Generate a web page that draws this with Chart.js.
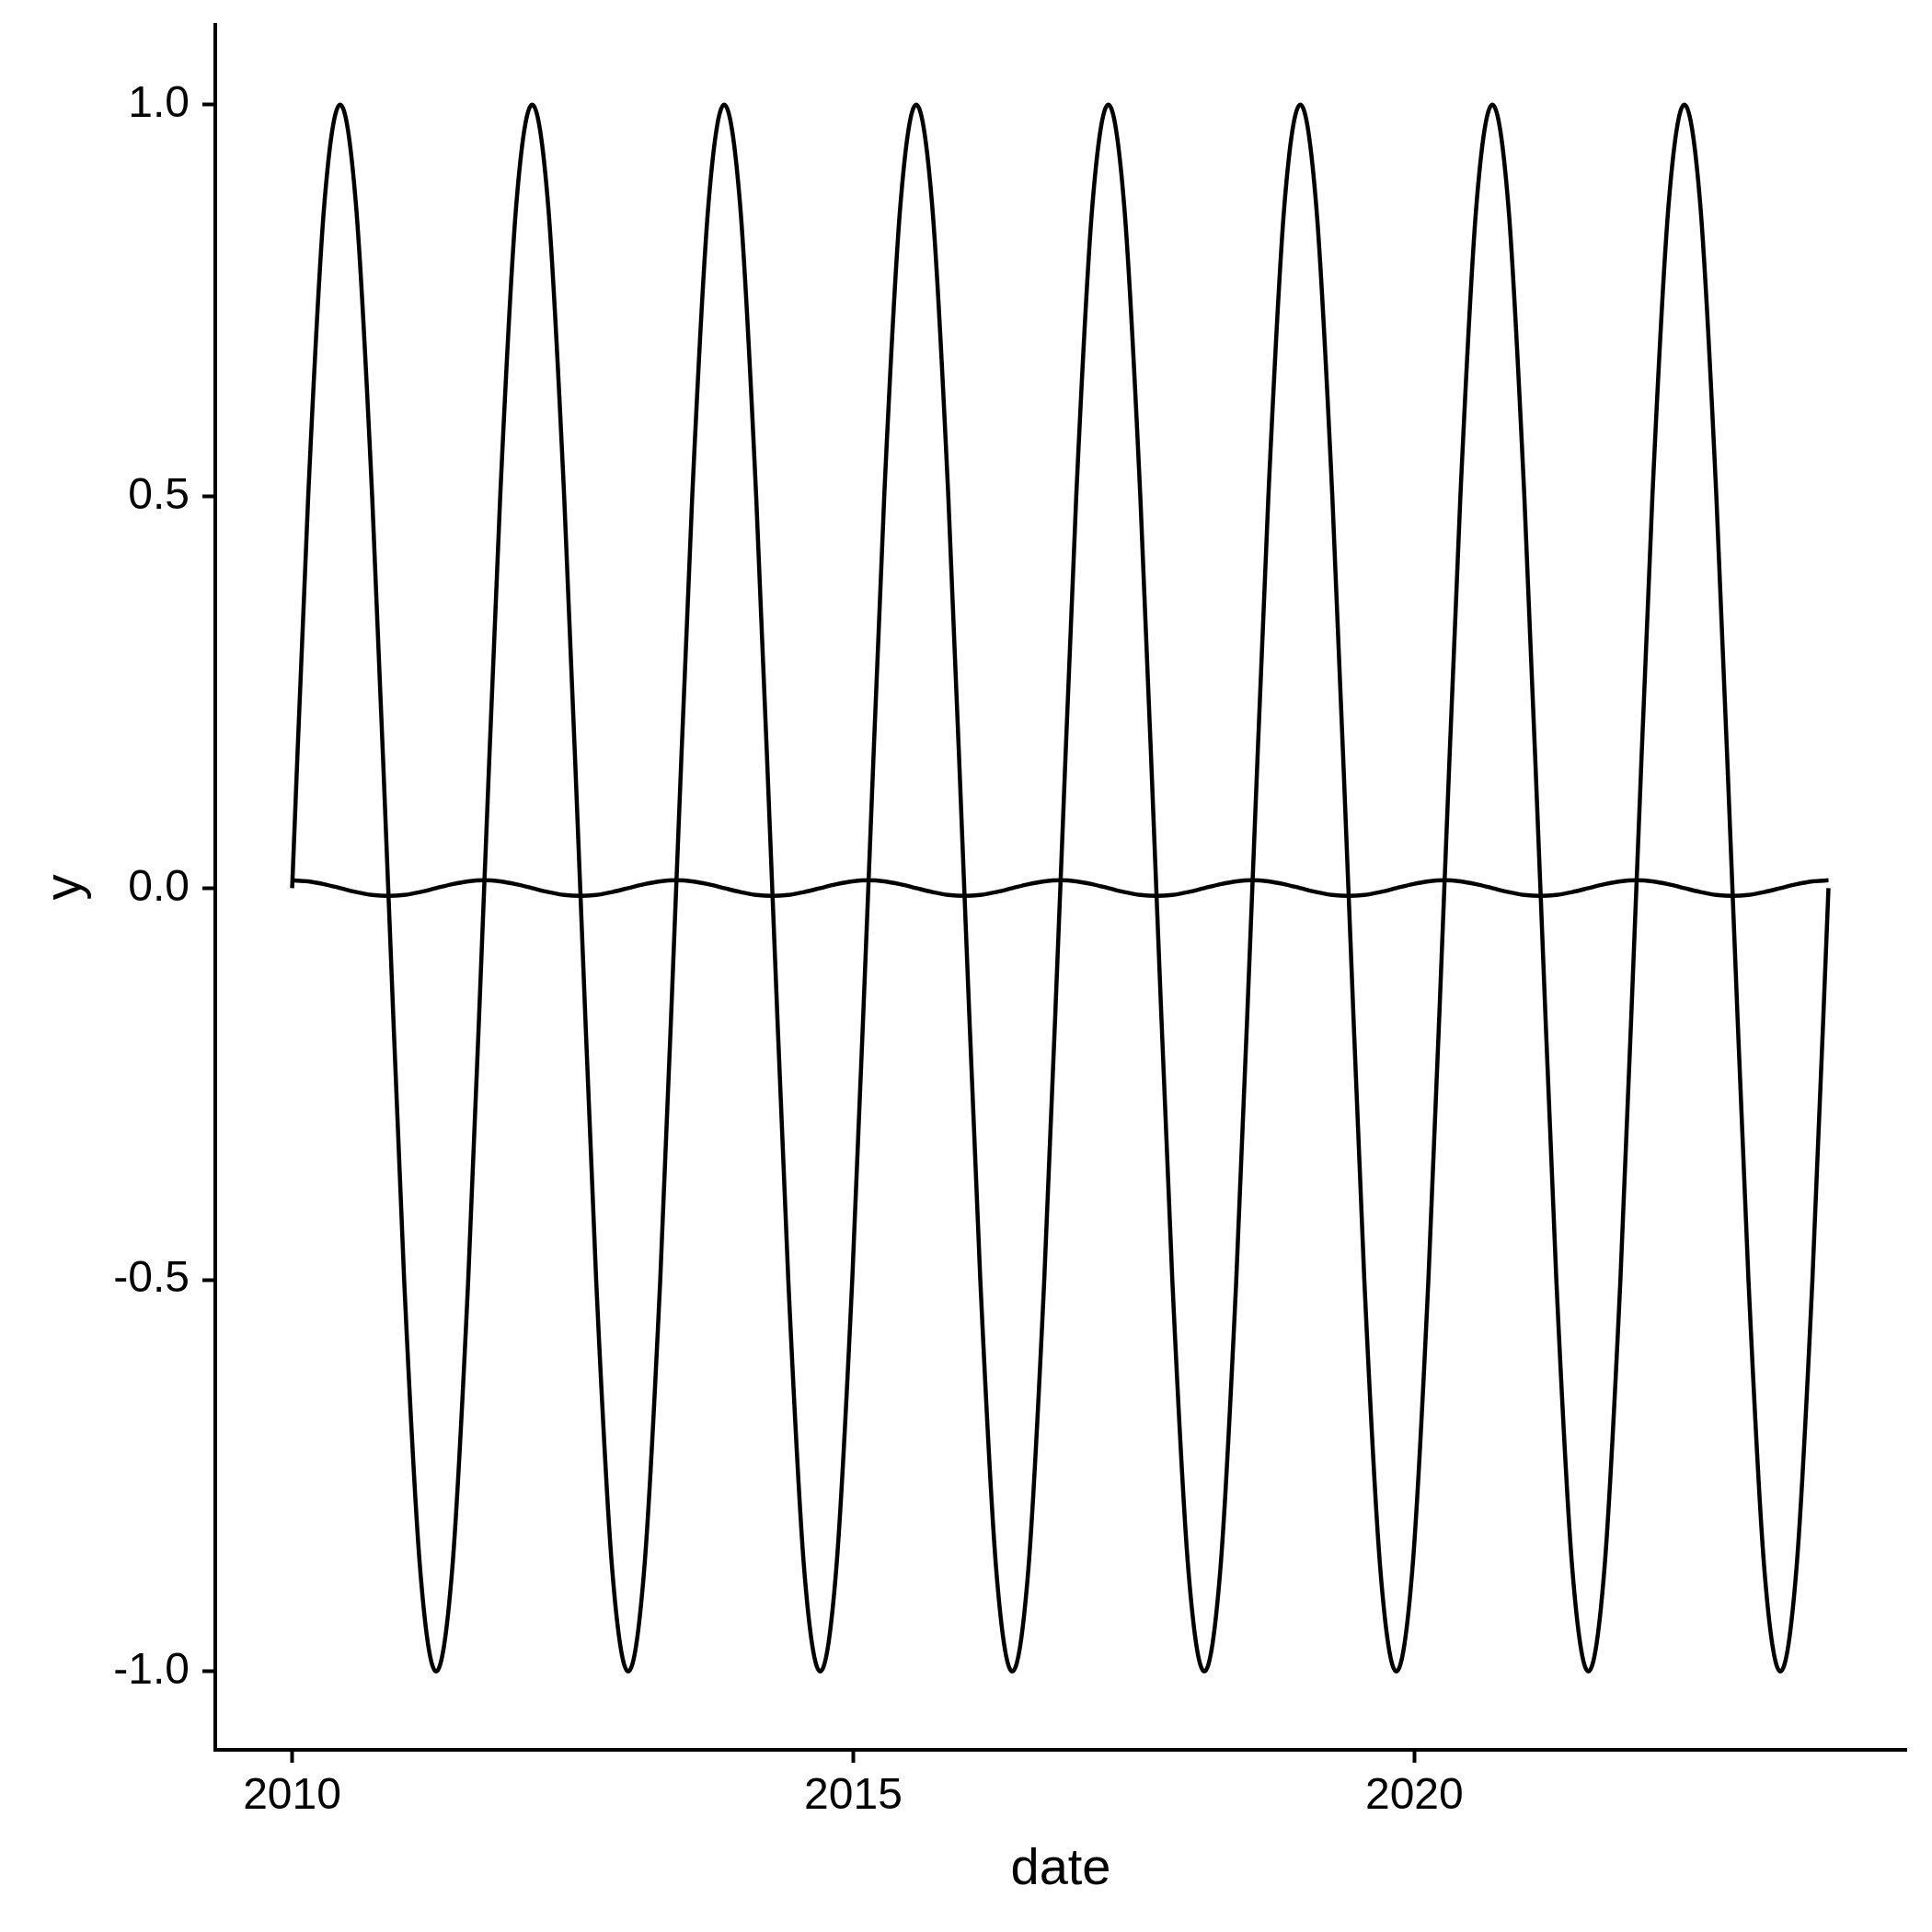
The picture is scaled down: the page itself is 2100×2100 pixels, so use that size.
<!DOCTYPE html>
<html>
<head>
<meta charset="utf-8">
<script src="https://cdn.jsdelivr.net/npm/chart.js@4/dist/chart.umd.min.js"></script>
<style>
  html, body { margin: 0; padding: 0; background: #fff; }
  #wrap { width: 2100px; height: 2100px; }
</style>
</head>
<body>
<div id="wrap"><canvas id="sineChart" width="2100" height="2100"></canvas></div>
<script>
// dates as decimal years (one sample every ~52 days)
const dates = [
  2010.000, 2010.143, 2010.285, 2010.428, 2010.570, 2010.713, 2010.856, 2010.998,
  2011.141, 2011.283, 2011.426, 2011.569, 2011.711, 2011.854, 2011.996, 2012.139,
  2012.282, 2012.424, 2012.567, 2012.709, 2012.852, 2012.995, 2013.137, 2013.280,
  2013.422, 2013.565, 2013.708, 2013.850, 2013.993, 2014.135, 2014.278, 2014.421,
  2014.563, 2014.706, 2014.848, 2014.991, 2015.134, 2015.276, 2015.419, 2015.561,
  2015.704, 2015.847, 2015.989, 2016.132, 2016.274, 2016.417, 2016.560, 2016.702,
  2016.845, 2016.987, 2017.130, 2017.273, 2017.415, 2017.558, 2017.700, 2017.843,
  2017.986, 2018.128, 2018.271, 2018.413, 2018.556, 2018.699, 2018.841, 2018.984,
  2019.126, 2019.269, 2019.412, 2019.554, 2019.697, 2019.839, 2019.982, 2020.125,
  2020.267, 2020.410, 2020.552, 2020.695, 2020.838, 2020.980, 2021.123, 2021.265,
  2021.408, 2021.551, 2021.693, 2021.836, 2021.978, 2022.121, 2022.264, 2022.406,
  2022.549, 2022.691, 2022.834, 2022.977, 2023.119, 2023.262, 2023.404, 2023.547,
  2023.690
];

// big wave (amplitude 1)
const yBig = [
  0, 0.5, 0.87, 1, 0.87, 0.5, 0, -0.5, -0.87, -1, -0.87, -0.5,
  0, 0.5, 0.87, 1, 0.87, 0.5, 0, -0.5, -0.87, -1, -0.87, -0.5,
  0, 0.5, 0.87, 1, 0.87, 0.5, 0, -0.5, -0.87, -1, -0.87, -0.5,
  0, 0.5, 0.87, 1, 0.87, 0.5, 0, -0.5, -0.87, -1, -0.87, -0.5,
  0, 0.5, 0.87, 1, 0.87, 0.5, 0, -0.5, -0.87, -1, -0.87, -0.5,
  0, 0.5, 0.87, 1, 0.87, 0.5, 0, -0.5, -0.87, -1, -0.87, -0.5,
  0, 0.5, 0.87, 1, 0.87, 0.5, 0, -0.5, -0.87, -1, -0.87, -0.5,
  0, 0.5, 0.87, 1, 0.87, 0.5, 0, -0.5, -0.87, -1, -0.87, -0.5,
  0
];

// small wave (amplitude ~0.01), peaks where the big one crosses zero
const ySmall = [
  0.01, 0.0087, 0.005, 0, -0.005, -0.0087, -0.01, -0.0087, -0.005, 0, 0.005, 0.0087,
  0.01, 0.0087, 0.005, 0, -0.005, -0.0087, -0.01, -0.0087, -0.005, 0, 0.005, 0.0087,
  0.01, 0.0087, 0.005, 0, -0.005, -0.0087, -0.01, -0.0087, -0.005, 0, 0.005, 0.0087,
  0.01, 0.0087, 0.005, 0, -0.005, -0.0087, -0.01, -0.0087, -0.005, 0, 0.005, 0.0087,
  0.01, 0.0087, 0.005, 0, -0.005, -0.0087, -0.01, -0.0087, -0.005, 0, 0.005, 0.0087,
  0.01, 0.0087, 0.005, 0, -0.005, -0.0087, -0.01, -0.0087, -0.005, 0, 0.005, 0.0087,
  0.01, 0.0087, 0.005, 0, -0.005, -0.0087, -0.01, -0.0087, -0.005, 0, 0.005, 0.0087,
  0.01, 0.0087, 0.005, 0, -0.005, -0.0087, -0.01, -0.0087, -0.005, 0, 0.005, 0.0087,
  0.01
];

const xTicks = [2010, 2015, 2020];
const xTickLabels = ['2010', '2015', '2020'];
const yTicks = [-1, -0.5, 0, 0.5, 1];
const yTickLabels = ['-1.0', '-0.5', '0.0', '0.5', '1.0'];

const FONT = "'Liberation Sans', Arial, Helvetica, sans-serif";

const toPoints = (ys) => dates.map((d, i) => ({ x: d, y: ys[i] }));

const lineStyle = {
  borderColor: '#000',
  borderWidth: 4.5,
  pointRadius: 0,
  fill: false,
  cubicInterpolationMode: 'monotone'
};

new Chart(document.getElementById('sineChart'), {
  type: 'line',
  data: {
    datasets: [
      Object.assign({ label: 'big', data: toPoints(yBig) }, lineStyle),
      Object.assign({ label: 'small', data: toPoints(ySmall) }, lineStyle)
    ]
  },
  options: {
    responsive: false,
    animation: false,
    events: [],
    layout: { padding: { top: 27, right: 28, left: 0, bottom: 0 } },
    plugins: { legend: { display: false }, tooltip: { enabled: false } },
    scales: {
      x: {
        type: 'linear',
        min: 2009.315,
        max: 2024.383,
        afterFit: (s) => { s.height = 198; s.paddingLeft = 0; s.paddingRight = 0; },
        afterBuildTicks: (s) => { s.ticks = xTicks.map(v => ({ value: v })); },
        border: { display: true, color: '#000', width: 4 },
        grid: { drawOnChartArea: false, drawTicks: true, tickLength: 14, tickWidth: 4, color: '#000' },
        ticks: {
          color: '#000',
          font: { family: FONT, size: 48 },
          padding: 8,
          maxRotation: 0,
          callback: (v) => xTickLabels[xTicks.indexOf(v)]
        },
        title: {
          display: true,
          text: 'date',
          color: '#000',
          font: { family: FONT, size: 56 },
          padding: { top: 0, bottom: 34 }
        }
      },
      y: {
        type: 'linear',
        min: -1.1,
        max: 1.102,
        afterFit: (s) => { s.width = 234; s.paddingTop = 0; s.paddingBottom = 0; },
        afterBuildTicks: (s) => { s.ticks = yTicks.map(v => ({ value: v })); },
        border: { display: true, color: '#000', width: 4 },
        grid: { drawOnChartArea: false, drawTicks: true, tickLength: 14, tickWidth: 4, color: '#000' },
        ticks: {
          color: '#000',
          font: { family: FONT, size: 48 },
          padding: 14,
          callback: (v) => yTickLabels[yTicks.indexOf(v)]
        },
        title: {
          display: true,
          text: 'y',
          color: '#000',
          font: { family: FONT, size: 56 },
          padding: { top: 38, bottom: 0 }
        }
      }
    }
  }
});
</script>
</body>
</html>
